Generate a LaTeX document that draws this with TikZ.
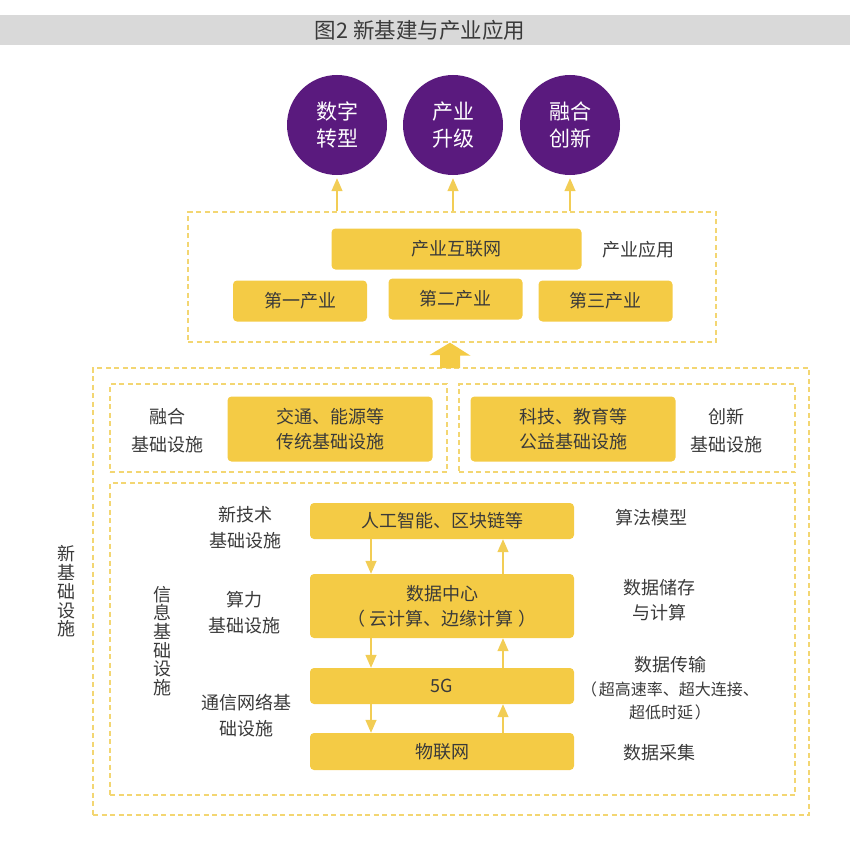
\documentclass[tikz,border=0pt]{standalone}
\usepackage{fontspec}
\setmainfont{Noto Sans CJK SC}
\usetikzlibrary{arrows.meta,positioning}
\definecolor{boxyellow}{HTML}{F4CB45}
\definecolor{dashyellow}{HTML}{F3D672}
\definecolor{linkyellow}{HTML}{F2CD55}
\definecolor{deeppurple}{HTML}{5A1A7E}
\definecolor{titlegray}{HTML}{D9D9D9}
\definecolor{ink}{HTML}{3A3A3A}

\begin{document}
\begin{tikzpicture}[x=1pt,y=-1pt,
  every node/.style={font=\fontsize{18}{25}\selectfont,text=ink,inner sep=0pt,align=center},
  ybox/.style={fill=boxyellow,rounded corners=4pt},
  dbox/.style={draw=dashyellow,line width=1.3pt,dash pattern=on 5pt off 3.5pt},
  goal/.style={circle,fill=deeppurple,minimum size=100pt,text=white,font=\fontsize{21}{27}\selectfont},
  link/.style={draw=linkyellow,line width=1.4pt,-{Triangle[width=11pt,length=13pt]}}]
  \useasboundingbox (0,0) rectangle (850,848);

  % Title
  \fill[titlegray] (0,15) rectangle (850,45);
  \node[font=\fontsize{21.5}{25}\selectfont] (title) at (420,30) {图2 新基建与产业应用};

  % Goals
  \node[goal] (digital) at (337,125) {数字\\转型};
  \node[goal] (upgrade) at (453,125) {产业\\升级};
  \node[goal] (innov) at (570,125) {融合\\创新};

  % Industry application
  \node[dbox,minimum width=528pt,minimum height=130pt] (app) at (452,277) {};
  \node[ybox,minimum width=250pt,minimum height=41pt] (iinternet) at (456.5,249) {产业互联网};
  \node[ybox,minimum width=134pt,minimum height=41pt] (primary) at (300,301) {第一产业};
  \node[ybox,minimum width=134pt,minimum height=41pt] (secondary) at (455.5,299) {第二产业};
  \node[ybox,minimum width=134pt,minimum height=41pt] (tertiary) at (605.5,301) {第三产业};
  \node (applabel) at (638,250) {产业应用};
  \draw[link,shorten >=3pt] (app.north -| digital) -- (digital.south);
  \draw[link,shorten >=3pt] (app.north -| upgrade) -- (upgrade.south);
  \draw[link,shorten >=3pt] (app.north -| innov) -- (innov.south);

  % New infrastructure
  \node[dbox,minimum width=716pt,minimum height=447pt] (newinfra) at (451,591.5) {};
  \node[font=\fontsize{18}{18.7}\selectfont] (newlabel) at (66,591.5) {新\\基\\础\\设\\施};
  \coordinate (fatbase) at (450,368);
  \fill[boxyellow] ([xshift=-10pt]fatbase) -- ++(0,-13) -- ++(-10.5,0) -- (fatbase |- app.south)
    -- ++(20.5,13) -- ++(-10.5,0) -- ([xshift=10pt]fatbase) -- cycle;

  % Fusion and innovation
  \node[dbox,minimum width=337pt,minimum height=88pt] (fusion) at (278.5,428) {};
  \node[dbox,minimum width=336pt,minimum height=88pt] (innovinfra) at (627,428) {};
  \node[ybox,minimum width=205pt,minimum height=65pt] (legacy) at (330,429) {交通、能源等\\传统基础设施};
  \node[ybox,minimum width=205pt,minimum height=65pt] (public) at (573,429) {科技、教育等\\公益基础设施};
  \node[font=\fontsize{18}{28}\selectfont] (fusionlabel) at (167,431) {融合\\基础设施};
  \node[font=\fontsize{18}{28}\selectfont] (innovlabel) at (726,431) {创新\\基础设施};

  % Information infrastructure
  \node[dbox,minimum width=685pt,minimum height=312pt] (info) at (452.5,639) {};
  \node[font=\fontsize{18}{18.7}\selectfont] (infolabel) at (162,641) {信\\息\\基\\础\\设\\施};
  \node[ybox,minimum width=264pt,minimum height=36pt] (ai) at (442,521) {人工智能、区块链等};
  \node[ybox,minimum width=264pt,minimum height=64pt] (dc) at (442,606)
    {数据中心\\（\hspace{5pt}云计算、边缘计算\hspace{5pt}）};
  \node[ybox,minimum width=264pt,minimum height=36pt] (fiveg) at (442,686) {5G};
  \node[ybox,minimum width=264pt,minimum height=37pt] (iot) at (442,751.5) {物联网};
  \coordinate (dn) at (371,0);
  \coordinate (up) at (503,0);
  \draw[link] (ai.south -| dn) -- (dc.north -| dn);
  \draw[link] (dc.north -| up) -- (ai.south -| up);
  \draw[link] (dc.south -| dn) -- (fiveg.north -| dn);
  \draw[link] (fiveg.north -| up) -- (dc.south -| up);
  \draw[link] (fiveg.south -| dn) -- (iot.north -| dn);
  \draw[link] (iot.north -| up) -- (fiveg.south -| up);

  % Left labels
  \node[font=\fontsize{18}{26}\selectfont] (techlabel) at (245,528) {新技术\\基础设施};
  \node[font=\fontsize{18}{26}\selectfont] (powerlabel) at (244,613) {算力\\基础设施};
  \node[font=\fontsize{18}{26}\selectfont] (netlabel) at (246,716) {通信网络基\\础设施};

  % Right labels
  \node (algolabel) at (651,518) {算法模型};
  \node (storelabel) at (659,600.5) {数据储存\\与计算};
  \node[font=\fontsize{16}{23.5}\selectfont] (translabel) at (670,688.5)
    {{\fontsize{18}{23.5}\selectfont 数据传输}\\（\hspace{2pt}超高速率、超大连接、\\超低时延\hspace{2pt}）};
  \node (collectlabel) at (659,753) {数据采集};
\end{tikzpicture}
\end{document}
